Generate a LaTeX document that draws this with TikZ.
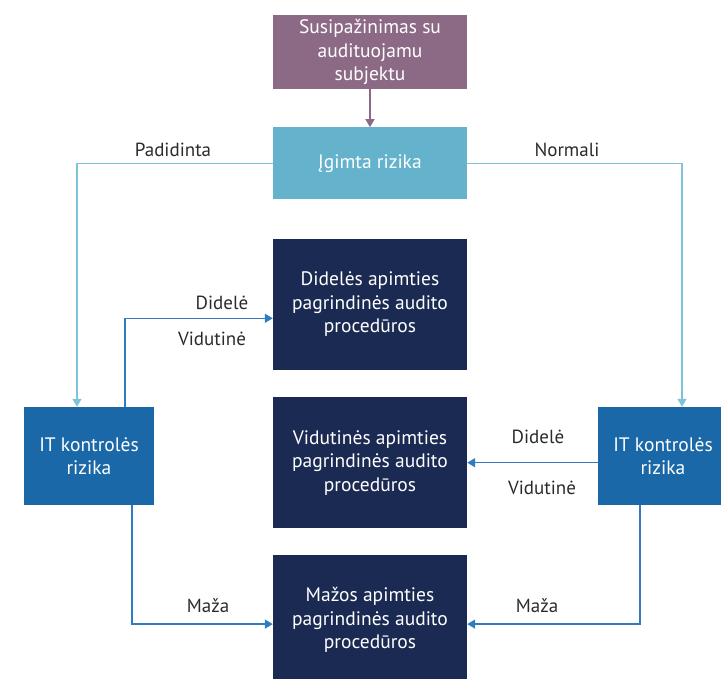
\documentclass[tikz,border=0pt]{standalone}
\usepackage{fontspec}
\setmainfont{PT Sans}
\usetikzlibrary{arrows.meta,positioning,calc}
\definecolor{AuditPurple}{HTML}{8C6A86}
\definecolor{AuditSky}{HTML}{64B2CB}
\definecolor{AuditBlue}{HTML}{1B68A8}
\definecolor{AuditNavy}{HTML}{1B2A52}
\definecolor{AuditSkyLine}{HTML}{7EC3DA}
\definecolor{AuditLine}{HTML}{2F7DC0}
\definecolor{AuditText}{HTML}{2B2B2B}
\tikzset{
  box/.style={draw=none, text=white, align=center, inner sep=3pt,
              font=\fontsize{19.5}{23.5}\selectfont},
  startbox/.style={box, fill=AuditPurple, minimum width=194pt, minimum height=74pt},
  riskbox/.style={box, fill=AuditSky, minimum width=194pt, minimum height=72pt},
  itbox/.style={box, fill=AuditBlue, minimum width=130pt, minimum height=98pt},
  procbox/.style={box, fill=AuditNavy, minimum width=194pt, minimum height=131pt},
  link/.style={-{Triangle[length=8pt,width=9pt]}, line width=1.4pt, draw=AuditLine},
  skylink/.style={link, draw=AuditSkyLine},
  purplelink/.style={link, draw=AuditPurple},
  lbl/.style={text=AuditText, font=\fontsize{19}{22}\selectfont},
}
\begin{document}
\begin{tikzpicture}[x=1pt,y=1pt]
    \useasboundingbox (0,0) rectangle (721,679);
    \node[startbox] (know) at (370,627) {Susipažinimas su\\audituojamu\\subjektu};
    \node[riskbox,below=38pt of know] (inh) {Įgimta rizika};
    \node[procbox,below=39pt of inh] (high) {Didelės apimties\\pagrindinės audito\\procedūros};
    \node[procbox,below=27pt of high] (mid) {Vidutinės apimties\\pagrindinės audito\\procedūros};
    \node[procbox,below=26pt of mid] (low) {Mažos apimties\\pagrindinės audito\\procedūros};
    \node[itbox] (itl) at (89,223) {IT kontrolės\\rizika};
    \node[itbox] (itr) at (663,223) {IT kontrolės\\rizika};
    % inherent risk branches
    \draw[purplelink] (know) -- (inh);
    \draw[skylink] (inh.west) -| ([xshift=-12pt]itl.north);
    \draw[skylink] (inh.east) -| ([xshift=19pt]itr.north);
    \node[lbl] (up) at (173,529) {Padidinta};
    \node[lbl] (norm) at (567,529) {Normali};
    % left control risk
    \draw[link] ([xshift=36pt]itl.north) |- ([yshift=-14pt]high.west);
    \draw[link] ([xshift=43pt]itl.south) |- ([yshift=-4pt]low.west);
    \node[lbl] (lhigh) at (222,376) {Didelė};
    \node[lbl] (lmid) at (212,340) {Vidutinė};
    \node[lbl] (llow) at (208,73) {Maža};
    % right control risk
    \draw[link] (mid.east -| itr.west) -- (mid.east);
    \draw[link] ([xshift=-23pt]itr.south) |- ([yshift=-4pt]low.east);
    \node[lbl] (rhigh) at (538,242) {Didelė};
    \node[lbl] (rmid) at (542,191) {Vidutinė};
    \node[lbl] (rlow) at (537,73) {Maža};
\end{tikzpicture}
\end{document}
